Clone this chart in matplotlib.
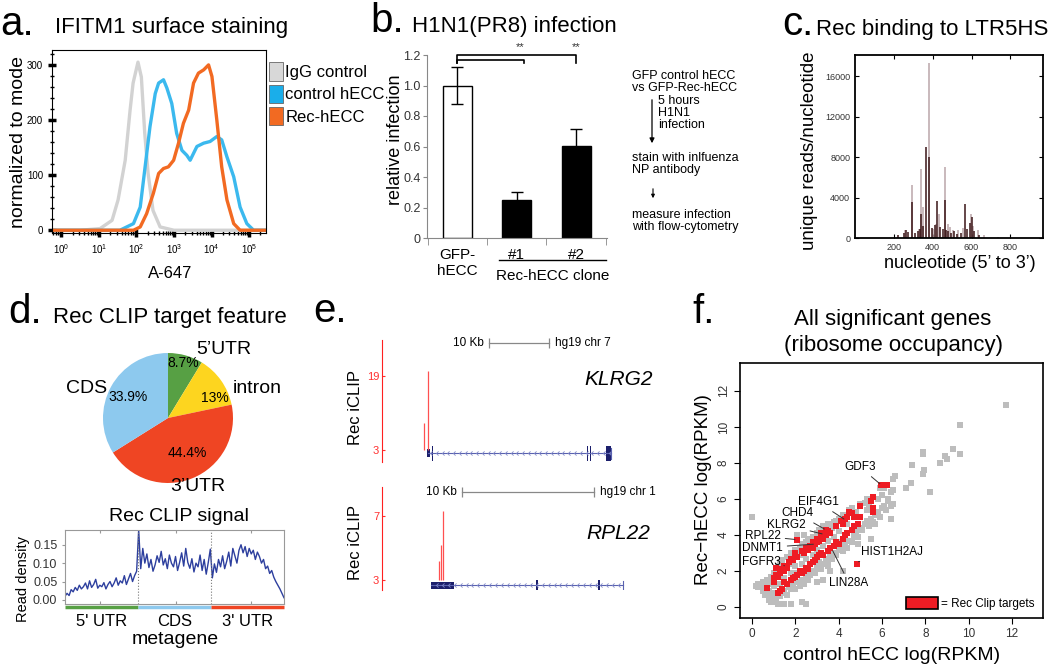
import numpy as np
import matplotlib
matplotlib.use('Agg')
import matplotlib.pyplot as plt
from matplotlib.patches import Patch, Rectangle, FancyArrowPatch
from matplotlib.path import Path
from matplotlib.ticker import MultipleLocator, NullFormatter

plt.rcParams['font.family'] = ['Liberation Sans', 'DejaVu Sans']

# ---- a. IFITM1 surface staining (x = log10 A-647, y = normalized to mode)
igg_logx = [-0.25, 0.5, 1.03, 1.35, 1.51, 1.70, 1.83, 1.91, 2.04, 2.13, 2.22, 2.31, 2.44, 2.63, 3.0, 5.45]
igg_val = [0, 0, 3, 18, 55, 127, 218, 267, 305, 278, 176, 103, 36, 6, 0, 0]
ctrl_logx = [-0.25, 1.3, 1.56, 1.92, 2.10, 2.23, 2.36, 2.50, 2.59, 2.72, 2.81, 2.94, 3.07, 3.21,
             3.34, 3.43, 3.61, 3.79, 3.96, 4.14, 4.27, 4.41, 4.59, 4.76, 4.94, 5.12, 5.45]
ctrl_val = [0, 0, 0, 12, 42, 115, 188, 248, 267, 273, 258, 230, 176, 145,
            136, 127, 152, 158, 161, 170, 164, 133, 97, 42, 12, 0, 0]
rec_logx = [-0.25, 1.7, 1.92, 2.10, 2.27, 2.45, 2.59, 2.72, 2.85, 2.99, 3.12, 3.25, 3.39, 3.52,
            3.65, 3.79, 3.92, 4.01, 4.14, 4.27, 4.41, 4.59, 4.76, 5.45]
rec_val = [0, 0, 0, 6, 30, 67, 103, 112, 115, 127, 158, 194, 218, 267,
           285, 291, 300, 279, 200, 115, 55, 12, 0, 0]
facs_labels = ['IgG control', 'control hECC', 'Rec-hECC']

# ---- b. H1N1(PR8) infection
inf_labels = ['GFP-\nhECC', '#1', '#2']
inf_vals = [1.0, 0.25, 0.605]
inf_err = [0.12, 0.05, 0.11]
flow_steps = ['GFP control hECC\nvs GFP-Rec-hECC', '5 hours\nH1N1\ninfection',
              'stain with inlfuenza\nNP antibody', 'measure infection\nwith flow-cytometry']

# ---- c. Rec binding to LTR5HS (reads per nucleotide)
dark_nt = [222, 250, 262, 275, 296, 310, 323, 335, 342, 350, 367, 383, 395, 410, 424, 440, 452,
           461, 470, 480, 495, 510, 525, 545, 564, 575, 590, 600, 612, 640]
dark_val = [330, 500, 760, 600, 3560, 500, 700, 900, 2400, 1200, 9000, 8020, 1000, 1300, 3630, 1100,
            900, 3730, 800, 700, 500, 650, 400, 500, 3400, 900, 1500, 2080, 700, 250]
light_nt = [257, 296, 330, 342, 348, 383, 400, 418, 430, 461, 479, 491, 505, 532, 554, 598, 606,
            633, 665, 736]
light_val = [760, 5210, 900, 6830, 3070, 17260, 900, 1400, 2400, 7030, 1420, 1090, 760, 760, 1000,
             2400, 1200, 760, 260, 100]

# ---- d. Rec CLIP target feature
feat_names = ["5'UTR", 'intron', "3'UTR", 'CDS']
feat_pct = [8.7, 13, 44.4, 33.9]
feat_colors = ['#57a044', '#fdd51f', '#ef4523', '#8dc9ee']

utr5_signal = [0.010, 0.018, 0.012, 0.028, 0.022, 0.034, 0.026, 0.040, 0.030, 0.036, 0.046, 0.030,
               0.052, 0.034, 0.042, 0.056, 0.032, 0.040, 0.036, 0.047, 0.030, 0.042, 0.050, 0.036,
               0.046, 0.060, 0.040, 0.052, 0.046, 0.066, 0.042, 0.057, 0.072, 0.050, 0.066, 0.078]
cds_signal = [0.190, 0.085, 0.140, 0.100, 0.125, 0.088, 0.110, 0.078, 0.095, 0.120, 0.102, 0.132,
              0.095, 0.112, 0.085, 0.122, 0.100, 0.090, 0.118, 0.080, 0.102, 0.128, 0.092, 0.140,
              0.102, 0.086, 0.112, 0.076, 0.100, 0.090, 0.122, 0.080, 0.110, 0.070, 0.102, 0.138]
utr3_signal = [0.060, 0.098, 0.075, 0.110, 0.090, 0.120, 0.085, 0.105, 0.130, 0.092, 0.140, 0.120,
               0.100, 0.135, 0.150, 0.128, 0.145, 0.118, 0.140, 0.125, 0.135, 0.110, 0.130, 0.118,
               0.100, 0.110, 0.085, 0.092, 0.072, 0.080, 0.062, 0.050, 0.040, 0.030, 0.018, 0.006]
meta_names = ["5' UTR", 'CDS', "3' UTR"]

# ---- e. iCLIP tracks (positions in kb from window start)
klrg2_clip_kb = [7.05, 7.67]
klrg2_clip_val = [8.8, 20.2]
klrg2_span = (7.67, 38.2)
klrg2_exons = [(7.55, 8.05), (8.25, 8.43), (34.1, 34.28), (34.62, 34.8), (37.3, 38.2)]
rpl22_clip_kb = [4.3, 4.45, 4.6]
rpl22_clip_val = [4.2, 5.2, 7.33]
rpl22_span = (3.69, 18.26)
rpl22_exons = [(3.69, 5.45), (11.65, 11.8), (16.37, 16.52)]

# ---- f. ribosome occupancy, log(RPKM)
gray_x = [0.2, 0.3, 0.4, 0.5, 0.6, 0.7, 0.8, 0.9, 1.0, 1.1, 1.2, 1.3, 1.4, 1.6, 1.7, 1.8, 1.9, 2.0,
          2.2, 2.3, 2.5, 2.6, 2.8, 3.0, 3.1, 3.3, 3.5, 3.7, 3.8, 4.0, 4.2, 4.6, 4.8, 5.2, 5.4,
          0.8, 0.9, 1.0, 1.1, 1.3, 1.5, 1.6, 1.7, 1.9, 2.0, 2.1, 2.3, 2.4, 2.5, 2.7, 2.8, 3.0, 3.1,
          3.3, 3.4, 3.5, 3.6, 3.8, 4.0, 4.1, 4.3, 4.5, 4.7, 4.8, 5.0, 5.2, 5.3, 5.5, 5.7, 5.8, 6.0,
          6.1, 6.3, 1.0, 1.5, 2.0, 2.5, 3.0, 3.5, 4.0,
          5.9, 6.1, 6.3, 6.4, 6.5, 6.5, 6.6, 6.5, 6.4, 7.1, 7.35, 7.4, 7.9, 7.95, 7.9, 7.9, 8.2,
          8.7, 8.9, 9.0, 9.3, 9.6, 9.6, 11.7,
          0.0, 2.1, 2.4, 4.0, 4.6, 4.2, 5.5, 5.7, 4.9, 2.0, 1.5, 1.8, 2.3, 2.5, 3.0, 3.3, 3.6, 4.2,
          1.1, 0.3, 0.5, 1.2,
          0.9, 1.2, 1.4, 1.7, 2.1, 2.4, 2.7, 2.9, 3.2, 3.6, 3.9, 4.3, 4.5, 5.0, 5.3, 1.9, 2.2,
          0.9, 1.2, 1.4, 1.8, 2.2, 2.6, 2.9, 3.2, 3.5, 3.7, 3.9, 4.2, 4.4, 4.6, 4.9, 5.1, 5.4, 5.6,
          5.9, 6.2, 6.4,
          0.6, 0.8, 1.3, 1.8, 2.3, 2.8, 3.3, 3.8, 4.4, 4.8, 5.3, 5.8, 6.0]
gray_y = [1.2, 1.3, 1.2, 1.4, 1.1, 1.5, 1.3, 1.7, 1.9, 2.0, 2.3, 2.5, 2.6, 2.8, 2.4, 3.0, 2.9, 3.2,
          3.3, 3.5, 3.6, 3.8, 3.9, 4.1, 4.3, 4.5, 4.6, 4.4, 4.7, 4.9, 5.1, 5.5, 5.3, 5.8, 5.6,
          0.4, 0.6, 0.8, 0.5, 0.6, 0.9, 0.7, 1.1, 1.2, 1.0, 1.4, 1.5, 1.3, 1.7, 1.8, 2.0, 2.2, 2.5,
          2.4, 2.7, 2.6, 2.9, 3.0, 3.2, 3.4, 3.5, 3.7, 4.0, 4.2, 4.4, 4.6, 4.8, 4.9, 5.1, 5.3, 5.5,
          5.6, 5.9, 1.2, 1.6, 2.3, 2.7, 3.2, 3.7, 4.2,
          6.6, 6.6, 6.0, 6.4, 6.5, 5.7, 7.3, 7.1, 4.9, 6.6, 6.9, 7.9, 7.4, 7.6, 8.5, 8.6, 6.4,
          8.0, 8.4, 8.2, 8.8, 8.5, 10.1, 11.2,
          5.0, 4.0, 4.0, 3.6, 3.7, 3.4, 3.8, 4.6, 3.5, 1.9, 0.2, 0.2, 0.3, 0.2, 1.4, 1.5, 2.0, 2.0,
          0.3, 1.1, 0.9, 0.2,
          1.5, 2.0, 2.2, 2.7, 3.0, 3.4, 3.6, 3.8, 4.2, 4.5, 4.8, 5.0, 5.4, 5.7, 6.0, 2.7, 2.9,
          0.3, 0.7, 0.8, 1.0, 1.2, 1.5, 1.9, 2.1, 2.3, 2.7, 2.9, 3.1, 3.3, 3.6, 3.9, 4.3, 4.5, 4.7,
          5.0, 5.4, 5.6,
          0.7, 0.9, 1.3, 1.9, 2.4, 2.9, 3.4, 3.9, 4.6, 5.0, 5.4, 6.0, 6.2]
red_x = [0.7, 1.0, 1.0, 1.1, 1.2, 1.3, 1.4, 1.5, 1.5, 1.6, 1.7, 1.8, 1.9, 2.0, 2.1, 2.3, 2.4, 2.5,
         2.6, 2.7, 2.8, 2.8, 2.9, 3.0, 3.0, 3.1, 3.2, 3.2, 3.3, 3.4, 3.4, 3.5, 3.6, 3.9, 4.1, 4.2,
         4.3, 4.4, 4.5, 4.6, 4.7, 5.0, 5.5, 5.6, 5.95, 6.25,
         1.2, 1.3, 1.4, 1.5, 1.6, 1.8, 1.9, 2.0, 2.1, 2.2, 2.3, 2.4, 2.5, 2.6, 2.7, 2.8, 2.9, 3.0,
         3.1, 3.2, 3.3, 3.5, 3.6, 3.8, 3.9, 4.0, 4.2, 4.3, 4.4, 4.6, 4.7, 4.9, 5.0, 5.6, 5.6,
         2.1, 4.85, 1.1]
red_y = [1.05, 1.4, 1.6, 1.8, 1.7, 1.9, 2.1, 2.0, 2.3, 2.2, 2.5, 2.7, 2.6, 3.0, 2.8, 3.1, 3.0, 3.3,
         3.2, 3.4, 3.3, 3.6, 3.5, 3.6, 3.8, 3.7, 3.9, 4.1, 3.8, 4.0, 4.3, 4.2, 4.1, 4.5, 4.8, 4.6,
         4.9, 5.0, 5.3, 5.2, 5.0, 5.6, 5.9, 6.1, 6.8, 6.8,
         0.8, 0.9, 1.0, 1.4, 1.3, 1.5, 1.6, 1.7, 1.8, 2.0, 1.9, 2.0, 2.2, 2.1, 2.4, 2.5, 2.6, 2.8,
         2.9, 3.0, 2.9, 3.1, 3.3, 3.4, 3.6, 3.5, 3.8, 4.0, 4.1, 4.3, 4.5, 4.6, 5.0, 5.3, 5.5,
         3.75, 2.4, 2.2]
gene_names = ['GDF3', 'EIF4G1', 'CHD4', 'KLRG2', 'RPL22', 'DNMT1', 'FGFR3', 'HIST1H2AJ', 'LIN28A']
gene_xy = [(5.95, 6.8), (4.3, 4.85), (3.4, 4.3), (3.3, 4.05), (2.05, 3.75), (2.9, 3.5), (1.5, 2.3),
           (4.85, 2.5), (3.7, 3.2)]
label_xy = [(4.98, 7.78), (3.05, 5.83), (2.08, 5.2), (1.6, 4.55), (0.52, 3.94), (0.5, 3.3),
            (0.45, 2.5), (6.45, 3.05), (4.48, 1.33)]

W, H = 1050, 666
fig = plt.figure(figsize=(W / 100, H / 100), dpi=100)


def box(l, t, w, h):
    return [l / W, 1 - (t + h) / H, w / W, h / H]


def ftext(x, y, s, **kw):
    return fig.text(x / W, 1 - y / H, s, **kw)


def label(x, y, s, fs, rot=0):
    # axis labels centred at pixel position
    return ftext(x, y, s, fontsize=fs, rotation=rot, ha='center', va='center')


for lett, (lx, ly) in zip(['a.', 'b.', 'c.', 'd.', 'e.', 'f.'],
                          [(0, 35), (370, 32), (782, 35), (8, 323), (313, 322), (692, 323)]):
    ftext(lx, ly, lett, fontsize=29, va='baseline')
ftext(55, 33, 'IFITM1 surface staining', fontsize=16, va='baseline')
ftext(412, 32, 'H1N1(PR8) infection', fontsize=16, va='baseline')
ftext(816, 35, 'Rec binding to LTR5HS', fontsize=16, va='baseline')
ftext(53, 323, 'Rec CLIP target feature', fontsize=16, va='baseline')
ftext(893, 325, 'All significant genes', fontsize=16, va='baseline', ha='center')
ftext(893, 351, '(ribosome occupancy)', fontsize=16, va='baseline', ha='center')

# ---------------- a
axa = fig.add_axes(box(52, 50, 214, 183))
for lx, lv, col in [(igg_logx, igg_val, '#d2d2d2'), (ctrl_logx, ctrl_val, '#3bb9ee'),
                    (rec_logx, rec_val, '#f26a22')]:
    axa.plot(10 ** np.array(lx), lv, color=col, lw=2.4, solid_joinstyle='round')
axa.set_xscale('log')
axa.set_xlim(10 ** -0.25, 10 ** 5.45)
axa.set_ylim(-5, 327)
axa.set_xticks([10 ** k for k in range(6)])
axa.set_yticks([0, 100, 200, 300])
axa.yaxis.set_minor_locator(MultipleLocator(20))
axa.xaxis.set_minor_formatter(NullFormatter())
axa.tick_params(which='major', direction='inout', length=6, width=2.5, labelsize=7)
axa.tick_params(which='minor', direction='inout', length=3, width=1)
label(19, 142, 'normalized to mode', 14, 90)
label(170, 273, 'A-647', 12)
handles = [Patch(facecolor=c, edgecolor='#666', lw=0.6) for c in ['#d8d8d8', '#1aaeea', '#f26a22']]
axa.legend(handles, facs_labels, loc='upper left', bbox_to_anchor=(1.0, 0.95), frameon=False,
           fontsize=12, handlelength=0.8, handleheight=1.3, handletextpad=0.15,
           labelspacing=0.25, borderpad=0, borderaxespad=0.2)

# ---------------- b
axb = fig.add_axes(box(427, 55, 180, 183))
pos = np.arange(len(inf_vals))
axb.bar(pos, inf_vals, width=0.49, color=['white', 'black', 'black'], edgecolor='black', lw=1,
        yerr=inf_err, capsize=4, error_kw=dict(elinewidth=1, capthick=1, ecolor='black'))
axb.set_xlim(-0.51, 2.52)
axb.set_ylim(0, 1.2)
for s in ['top', 'right']:
    axb.spines[s].set_visible(False)
for s in ['left', 'bottom']:
    axb.spines[s].set_color('#888')
axb.set_yticks([0, 0.2, 0.4, 0.6, 0.8, 1.0, 1.2])
axb.set_yticklabels(['0', '0.2', '0.4', '0.6', '0.8', '1.0', '1.2'])
axb.tick_params(axis='y', labelsize=9, colors='#888', labelcolor='#333', length=3, pad=1.5)
axb.set_xticks(pos)
axb.set_xticklabels(inf_labels, fontsize=11, va='top')
axb.set_xticks([-0.5, 0.5, 1.5, 2.5], minor=True)
axb.tick_params(axis='x', which='major', length=0, pad=7)
axb.tick_params(axis='x', which='minor', length=5, color='#888')
label(396, 140, 'relative infection', 13, 90)
tb = axb.get_xaxis_transform()
axb.plot([0.7, 2.5], [-0.12, -0.12], transform=tb, color='black', lw=1, clip_on=False)
axb.text(1.6, -0.205, 'Rec-hECC clone', transform=tb, ha='center', va='center', fontsize=11)
axb.plot([0, 0, 2, 2], [1.15, 1.2, 1.2, 1.15], color='black', lw=1.2, clip_on=False)
axb.plot([0, 0, 1.12, 1.12], [1.15, 1.167, 1.167, 1.15], color='black', lw=1.2, clip_on=False)
for sx in [1.05, 2.0]:
    axb.text(sx, 1.255, '**', ha='center', va='center', fontsize=8, color='#333')

# flow chart text
ftext(632, 82, flow_steps[0], fontsize=9, va='center', linespacing=1.0)
ftext(658, 113, flow_steps[1], fontsize=9, va='center', linespacing=1.05)
ftext(632, 164, flow_steps[2], fontsize=9, va='center', linespacing=1.05)
ftext(632, 221, flow_steps[3], fontsize=9, va='center', linespacing=1.05)
fig.add_artist(FancyArrowPatch((652 / W, 1 - 97 / H), (652 / W, 1 - 146 / H),
                               arrowstyle='-|>', mutation_scale=7, lw=0.9, color='black'))
fig.add_artist(FancyArrowPatch((653 / W, 1 - 186 / H), (653 / W, 1 - 201 / H),
                               arrowstyle='-|>', mutation_scale=5, lw=0.8, color='black'))

# ---------------- c
axc = fig.add_axes(box(855, 55, 188, 183))
axc.vlines(light_nt, 0, light_val, color='#bba6a9', lw=1.1)
axc.vlines(dark_nt, 0, dark_val, color='#3b1517', lw=1.1)
axc.set_xlim(0, 968)
axc.set_ylim(0, 18100)
axc.set_xticks([200, 400, 600, 800])
axc.set_yticks([0, 4000, 8000, 12000, 16000])
axc.tick_params(direction='in', top=True, right=True, labelsize=6.5, length=3, labelcolor='#333')
for s in axc.spines.values():
    s.set_linewidth(1.3)
label(810, 151, 'unique reads/nucleotide', 13.5, 90)
label(960, 263, "nucleotide (5\u2019 to 3\u2019)", 13)

# ---------------- d pie
axp = fig.add_axes(box(103, 353, 130, 130))
axp.pie(feat_pct, colors=feat_colors, startangle=90, counterclock=False, radius=1,
        wedgeprops=dict(lw=0))
axp.set_xlim(-1, 1)
axp.set_ylim(-1, 1)
name_pos = [(0.86, 1.05), (1.37, 0.46), (0.46, -1.05), (-1.26, 0.46)]
pct_pos = [(0.23, 0.85), (0.72, 0.31), (0.29, -0.54), (-0.62, 0.32)]
for nm, v, npos, ppos in zip(feat_names, feat_pct, name_pos, pct_pos):
    axp.text(*npos, nm.replace("'", "\u2019"), ha='center', va='center', fontsize=14, clip_on=False)
    axp.text(*ppos, f'{v:g}%', ha='center', va='center', fontsize=10)

# ---------------- d metagene
meta = utr5_signal + cds_signal + utr3_signal
n5, nc = len(utr5_signal), len(cds_signal)
axm = fig.add_axes(box(65, 530, 219, 74))
axm.plot(np.arange(len(meta)), meta, color='#2d3f9e', lw=1)
axm.set_xlim(0, len(meta) - 1)
axm.set_ylim(-0.011, 0.19)
bounds = [0, n5 - 0.5, n5 + nc - 0.5, len(meta) - 1]
for bx in bounds[1:3]:
    axm.axvline(bx, color='#777', ls=':', lw=0.8)
tm = axm.get_xaxis_transform()
for i, col in enumerate(['#57a044', '#8dc9ee', '#ef4523']):
    axm.plot([bounds[i], bounds[i + 1]], [-0.045, -0.045], transform=tm, color=col, lw=2.5,
             clip_on=False, solid_capstyle='butt')
    axm.text((bounds[i] + bounds[i + 1]) / 2, -0.13, meta_names[i], transform=tm, ha='center',
             va='top', fontsize=12)
axm.set_yticks([0, 0.05, 0.10, 0.15])
axm.set_yticklabels(['0.00', '0.05', '0.10', '0.15'])
axm.set_xticks([len(meta) * f for f in (0.16, 0.5, 0.84)])
axm.set_xticklabels([])
axm.tick_params(axis='x', direction='in', top=True, length=2, color='#999')
axm.tick_params(axis='y', labelsize=9, labelcolor='#333', color='#999', length=2)
for s in axm.spines.values():
    s.set_color('#999')
label(23, 579, 'Read density', 10.5, 90)
axm.text(0.52, 1.07, 'Rec CLIP signal', transform=axm.transAxes, ha='center', va='bottom',
         fontsize=14)
label(175, 640, 'metagene', 14)

# ---------------- e tracks
chev = Path([(0.5, 1), (-0.5, 0), (0.5, -1)], [Path.MOVETO, Path.LINETO, Path.LINETO])


def track(rect, xlim, ylim, yticks, clip_kb, clip_val, span, exons, ex_h, yc, scale, sb_y,
          chrom, gene, gene_pos):
    ax = fig.add_axes(box(*rect))
    ax.set_xlim(*xlim)
    ax.set_ylim(*ylim)
    for s in ['top', 'right', 'bottom']:
        ax.spines[s].set_visible(False)
    ax.spines['left'].set_color('#ff2020')
    ax.set_xticks([])
    ax.set_yticks(yticks)
    ax.tick_params(axis='y', colors='#ff3030', labelsize=8, length=2, direction='in', pad=2)
    ax.vlines(clip_kb, yticks[0], clip_val, color='#ff5050', lw=0.9)
    tr = ax.get_xaxis_transform()
    ax.plot(span, [yc, yc], transform=tr, color='#5a62b0', lw=0.8)
    xs = np.linspace(span[0] + 0.5, span[1] - 0.3, 32)
    ax.plot(xs, [yc] * len(xs), transform=tr, ls='none', marker=chev, ms=3, mfc='none',
            mec='#8088c8', mew=0.6)
    for (s, e), h in zip(exons, ex_h):
        ax.add_patch(Rectangle((s, yc - h / 2), e - s, h, transform=tr, color='#1c1f6c', lw=0))
    ax.plot([span[1], span[1]], [yc - 0.045, yc + 0.045], transform=tr, color='#5a62b0', lw=0.8)
    ax.plot(scale, [sb_y, sb_y], transform=tr, color='#888', lw=0.9, clip_on=False,
            marker='|', ms=7, mew=0.9)
    ax.text(scale[0] - 0.02 * (xlim[1] - xlim[0]), sb_y, '10 Kb', transform=tr, ha='right',
            va='center', fontsize=8.5)
    ax.text(scale[1] + 0.02 * (xlim[1] - xlim[0]), sb_y, chrom, transform=tr, ha='left',
            va='center', fontsize=8.5)
    ax.text(*gene_pos, gene, transform=ax.transAxes, ha='right', va='center', fontsize=15,
            style='italic')
    return ax


track((382, 340, 278, 122), (0, 46.3), (0.4, 26.8), [3, 19], klrg2_clip_kb, klrg2_clip_val,
      klrg2_span, klrg2_exons, [0.066, 0.123, 0.123, 0.123, 0.123], 0.071, (17.83, 27.83), 0.975,
      'hg19 chr 7', 'KLRG2', (0.975, 0.68))
track((382, 487, 278, 103), (0, 21.06), (2.375, 8.81), [3, 7], rpl22_clip_kb, rpl22_clip_val,
      rpl22_span, rpl22_exons, [0.068, 0.097, 0.097], 0.044, (6.06, 16.06), 0.951,
      'hg19 chr 1', 'RPL22', (0.964, 0.553))
label(355, 407, 'Rec iCLIP', 12, 90)
label(355, 543, 'Rec iCLIP', 12, 90)

# ---------------- f
axf = fig.add_axes(box(740, 363, 303, 255))
axf.scatter(gray_x, gray_y, marker='s', s=14, color='#bdbdbd', lw=0)
axf.scatter(red_x, red_y, marker='s', s=14, color='#ee1c24', lw=0)
axf.set_xlim(-0.55, 13.43)
axf.set_ylim(-0.6, 13.55)
axf.set_xticks(range(0, 13, 2))
axf.set_yticks(range(0, 13, 2))
axf.tick_params(labelsize=8.5, labelcolor='#333', length=4)
axf.tick_params(axis='y', labelrotation=90)
for lab in axf.get_yticklabels():
    lab.set_va('center')
for s in axf.spines.values():
    s.set_linewidth(1.2)
for nm, pt, lt in zip(gene_names, gene_xy, label_xy):
    axf.annotate(nm, xy=pt, xytext=lt, ha='center', va='center', fontsize=8.5,
                 arrowprops=dict(arrowstyle='-', color='#333', lw=0.7, shrinkA=1, shrinkB=1))
axf.legend([Patch(facecolor='#ee1c24', edgecolor='black', lw=1.2)], ['= Rec Clip targets'],
           loc='lower right', frameon=False, fontsize=8.5, handlelength=2.7, handleheight=1.2,
           handletextpad=0.3, borderaxespad=0.3)
label(892, 655, 'control hECC log(RPKM)', 14)
label(703, 490, 'Rec\u2212hECC log(RPKM)', 13.5, 90)

fig.savefig('out.png', dpi=100)
